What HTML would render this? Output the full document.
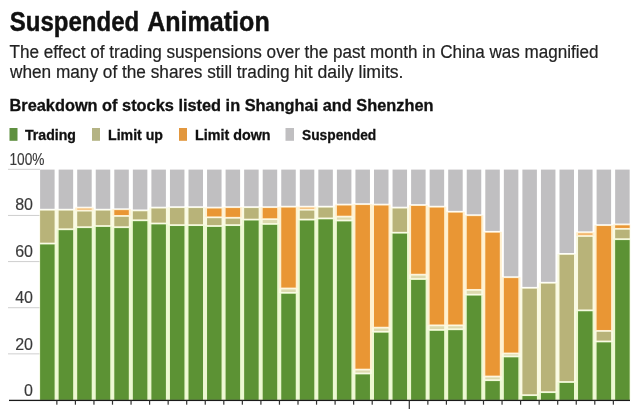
<!DOCTYPE html>
<html lang="en">
<head>
<meta charset="utf-8">
<title>Suspended Animation</title>
<style>
html,body{margin:0;padding:0;background:#fff;}
body{width:640px;height:409px;overflow:hidden;}
svg{display:block;filter:blur(0.45px);}
svg text{font-family:"Liberation Sans",Arial,Helvetica,sans-serif;}
.b{font-weight:bold;}
</style>
</head>
<body>
<svg width="640" height="409" viewBox="0 0 640 409">
<rect x="0" y="0" width="640" height="409" fill="#ffffff"/>
<g id="headings">
<text class="b" y="31.3" font-size="27" fill="#111" stroke="#111" stroke-width="0.45"><tspan x="9.7" textLength="129.5" lengthAdjust="spacingAndGlyphs">Suspended</tspan> <tspan x="147.2" textLength="122.5" lengthAdjust="spacingAndGlyphs">Animation</tspan></text>
<text y="57.6" font-size="18" fill="#222" stroke="#222" stroke-width="0.2"><tspan x="9.5" textLength="290.5" lengthAdjust="spacingAndGlyphs">The effect of trading suspensions over</tspan> <tspan x="304.6" textLength="294" lengthAdjust="spacingAndGlyphs">the past month in China was magnified</tspan></text>
<text y="78.4" font-size="18" fill="#222" stroke="#222" stroke-width="0.2"><tspan x="10" textLength="279.5" lengthAdjust="spacingAndGlyphs">when many of the shares still trading</tspan> <tspan x="294" textLength="109.5" lengthAdjust="spacingAndGlyphs">hit daily limits.</tspan></text>
<text class="b" x="9.5" y="111.3" font-size="16.4" fill="#111" stroke="#111" stroke-width="0.3" textLength="424" lengthAdjust="spacingAndGlyphs">Breakdown of stocks listed in Shanghai and Shenzhen</text>
</g>
<g id="legend" class="b" font-size="15" fill="#111" stroke="#111" stroke-width="0.3">
<rect x="9.5" y="128" width="8" height="12.8" fill="#5f9040" stroke="none"/>
<text x="25" y="139.5" textLength="51" lengthAdjust="spacingAndGlyphs">Trading</text>
<rect x="92" y="128" width="8" height="12.8" fill="#b4b384" stroke="none"/>
<text x="108" y="139.5" textLength="55" lengthAdjust="spacingAndGlyphs">Limit up</text>
<rect x="179" y="128" width="8" height="12.8" fill="#e2973e" stroke="none"/>
<text x="195" y="139.5" textLength="75.5" lengthAdjust="spacingAndGlyphs">Limit down</text>
<rect x="285.5" y="128" width="8.5" height="12.8" fill="#c0bfc1" stroke="none"/>
<text x="302" y="139.5" textLength="74.3" lengthAdjust="spacingAndGlyphs">Suspended</text>
</g>
<g id="grid">
<rect x="8" y="168.80" width="32" height="1" fill="#cfcfcf"/>
<rect x="8" y="214.94" width="32" height="1" fill="#cfcfcf"/>
<rect x="8" y="261.08" width="32" height="1" fill="#cfcfcf"/>
<rect x="8" y="307.22" width="32" height="1" fill="#cfcfcf"/>
<rect x="8" y="353.36" width="32" height="1" fill="#cfcfcf"/>
</g>
<g id="ylabels">
<text x="9.5" y="164.5" text-anchor="start" font-size="16" fill="#3a3a3a" stroke="#3a3a3a" stroke-width="0.15" textLength="35" lengthAdjust="spacingAndGlyphs">100%</text>
<text x="33" y="210.2" text-anchor="end" font-size="16" fill="#3a3a3a" stroke="#3a3a3a" stroke-width="0.15">80</text>
<text x="33" y="256.6" text-anchor="end" font-size="16" fill="#3a3a3a" stroke="#3a3a3a" stroke-width="0.15">60</text>
<text x="33" y="303.0" text-anchor="end" font-size="16" fill="#3a3a3a" stroke="#3a3a3a" stroke-width="0.15">40</text>
<text x="33" y="349.5" text-anchor="end" font-size="16" fill="#3a3a3a" stroke="#3a3a3a" stroke-width="0.15">20</text>
<text x="33" y="395.5" text-anchor="end" font-size="16" fill="#3a3a3a" stroke="#3a3a3a" stroke-width="0.15">0</text>
</g>
<g id="tints">
<rect x="39.50" y="243.56" width="17.20" height="156.44" fill="#ecf8d0"/>
<rect x="39.50" y="209.69" width="17.20" height="33.87" fill="#fafae2"/>
<rect x="56.55" y="229.27" width="18.70" height="170.73" fill="#ecf8d0"/>
<rect x="56.55" y="209.69" width="18.70" height="19.58" fill="#fafae2"/>
<rect x="75.10" y="227.20" width="18.70" height="172.80" fill="#ecf8d0"/>
<rect x="75.10" y="210.61" width="18.70" height="16.59" fill="#fafae2"/>
<rect x="75.10" y="207.62" width="18.70" height="3.00" fill="#fff0cf"/>
<rect x="93.65" y="226.05" width="18.70" height="173.95" fill="#ecf8d0"/>
<rect x="93.65" y="209.69" width="18.70" height="16.36" fill="#fafae2"/>
<rect x="112.20" y="227.20" width="18.70" height="172.80" fill="#ecf8d0"/>
<rect x="112.20" y="215.91" width="18.70" height="11.29" fill="#fafae2"/>
<rect x="112.20" y="209.23" width="18.70" height="6.68" fill="#fff0cf"/>
<rect x="130.75" y="220.29" width="18.70" height="179.71" fill="#ecf8d0"/>
<rect x="130.75" y="210.38" width="18.70" height="9.91" fill="#fafae2"/>
<rect x="149.30" y="223.51" width="18.70" height="176.49" fill="#ecf8d0"/>
<rect x="149.30" y="207.62" width="18.70" height="15.90" fill="#fafae2"/>
<rect x="167.85" y="225.13" width="18.70" height="174.87" fill="#ecf8d0"/>
<rect x="167.85" y="207.16" width="18.70" height="17.97" fill="#fafae2"/>
<rect x="186.40" y="225.13" width="18.70" height="174.87" fill="#ecf8d0"/>
<rect x="186.40" y="207.16" width="18.70" height="17.97" fill="#fafae2"/>
<rect x="204.95" y="226.05" width="18.70" height="173.95" fill="#ecf8d0"/>
<rect x="204.95" y="217.29" width="18.70" height="8.76" fill="#fafae2"/>
<rect x="204.95" y="207.62" width="18.70" height="9.68" fill="#fff0cf"/>
<rect x="223.50" y="225.13" width="18.70" height="174.87" fill="#ecf8d0"/>
<rect x="223.50" y="217.75" width="18.70" height="7.37" fill="#fafae2"/>
<rect x="223.50" y="207.16" width="18.70" height="10.60" fill="#fff0cf"/>
<rect x="242.05" y="219.60" width="18.70" height="180.40" fill="#ecf8d0"/>
<rect x="242.05" y="207.16" width="18.70" height="12.44" fill="#fafae2"/>
<rect x="260.60" y="223.97" width="18.70" height="176.03" fill="#ecf8d0"/>
<rect x="260.60" y="219.14" width="18.70" height="4.84" fill="#fafae2"/>
<rect x="260.60" y="207.16" width="18.70" height="11.98" fill="#fff0cf"/>
<rect x="279.15" y="292.86" width="18.70" height="107.14" fill="#ecf8d0"/>
<rect x="279.15" y="288.49" width="18.70" height="4.38" fill="#fafae2"/>
<rect x="279.15" y="206.69" width="18.70" height="81.79" fill="#fff0cf"/>
<rect x="297.70" y="219.60" width="18.70" height="180.40" fill="#ecf8d0"/>
<rect x="297.70" y="209.69" width="18.70" height="9.91" fill="#fafae2"/>
<rect x="297.70" y="206.69" width="18.70" height="3.00" fill="#fff0cf"/>
<rect x="316.25" y="218.44" width="18.70" height="181.56" fill="#ecf8d0"/>
<rect x="316.25" y="206.69" width="18.70" height="11.75" fill="#fafae2"/>
<rect x="334.80" y="220.52" width="18.70" height="179.48" fill="#ecf8d0"/>
<rect x="334.80" y="216.60" width="18.70" height="3.92" fill="#fafae2"/>
<rect x="334.80" y="204.62" width="18.70" height="11.98" fill="#fff0cf"/>
<rect x="353.35" y="373.50" width="18.70" height="26.50" fill="#ecf8d0"/>
<rect x="353.35" y="369.59" width="18.70" height="3.92" fill="#fafae2"/>
<rect x="353.35" y="204.16" width="18.70" height="165.43" fill="#fff0cf"/>
<rect x="371.90" y="331.80" width="18.70" height="68.20" fill="#ecf8d0"/>
<rect x="371.90" y="327.65" width="18.70" height="4.15" fill="#fafae2"/>
<rect x="371.90" y="204.62" width="18.70" height="123.03" fill="#fff0cf"/>
<rect x="390.45" y="232.73" width="18.70" height="167.27" fill="#ecf8d0"/>
<rect x="390.45" y="207.62" width="18.70" height="25.11" fill="#fafae2"/>
<rect x="409.00" y="279.04" width="18.70" height="120.96" fill="#ecf8d0"/>
<rect x="409.00" y="274.66" width="18.70" height="4.38" fill="#fafae2"/>
<rect x="409.00" y="205.08" width="18.70" height="69.58" fill="#fff0cf"/>
<rect x="427.55" y="329.96" width="18.70" height="70.04" fill="#ecf8d0"/>
<rect x="427.55" y="325.35" width="18.70" height="4.61" fill="#fafae2"/>
<rect x="427.55" y="206.69" width="18.70" height="118.66" fill="#fff0cf"/>
<rect x="446.10" y="329.27" width="18.70" height="70.73" fill="#ecf8d0"/>
<rect x="446.10" y="325.35" width="18.70" height="3.92" fill="#fafae2"/>
<rect x="446.10" y="211.76" width="18.70" height="113.59" fill="#fff0cf"/>
<rect x="464.65" y="294.71" width="18.70" height="105.29" fill="#ecf8d0"/>
<rect x="464.65" y="289.87" width="18.70" height="4.84" fill="#fafae2"/>
<rect x="464.65" y="215.22" width="18.70" height="74.65" fill="#fff0cf"/>
<rect x="483.20" y="380.19" width="18.70" height="19.81" fill="#ecf8d0"/>
<rect x="483.20" y="376.50" width="18.70" height="3.69" fill="#fafae2"/>
<rect x="483.20" y="231.81" width="18.70" height="144.69" fill="#fff0cf"/>
<rect x="501.75" y="356.45" width="18.70" height="43.55" fill="#ecf8d0"/>
<rect x="501.75" y="353.46" width="18.70" height="3.00" fill="#fafae2"/>
<rect x="501.75" y="277.20" width="18.70" height="76.26" fill="#fff0cf"/>
<rect x="520.30" y="395.16" width="18.70" height="4.84" fill="#ecf8d0"/>
<rect x="520.30" y="287.80" width="18.70" height="107.37" fill="#fafae2"/>
<rect x="538.85" y="392.17" width="18.70" height="7.83" fill="#ecf8d0"/>
<rect x="538.85" y="282.73" width="18.70" height="109.44" fill="#fafae2"/>
<rect x="557.40" y="382.03" width="18.70" height="17.97" fill="#ecf8d0"/>
<rect x="557.40" y="253.93" width="18.70" height="128.10" fill="#fafae2"/>
<rect x="575.95" y="310.37" width="18.70" height="89.63" fill="#ecf8d0"/>
<rect x="575.95" y="235.96" width="18.70" height="74.42" fill="#fafae2"/>
<rect x="575.95" y="232.27" width="18.70" height="3.69" fill="#fff0cf"/>
<rect x="594.50" y="341.48" width="18.70" height="58.52" fill="#ecf8d0"/>
<rect x="594.50" y="330.88" width="18.70" height="10.60" fill="#fafae2"/>
<rect x="594.50" y="225.13" width="18.70" height="105.75" fill="#fff0cf"/>
<rect x="613.05" y="239.18" width="17.20" height="160.82" fill="#ecf8d0"/>
<rect x="613.05" y="228.81" width="17.20" height="10.37" fill="#fafae2"/>
<rect x="613.05" y="224.44" width="17.20" height="4.38" fill="#fff0cf"/>
</g>
<g id="bars">
<rect x="40.10" y="244.46" width="14.5" height="155.44" fill="#5c9234"/>
<rect x="40.10" y="210.59" width="14.5" height="32.07" fill="#b8b379"/>
<rect x="40.10" y="169.60" width="14.5" height="39.19" fill="#c0bfc1"/>
<rect x="58.65" y="230.17" width="14.5" height="169.73" fill="#5c9234"/>
<rect x="58.65" y="210.59" width="14.5" height="17.78" fill="#b8b379"/>
<rect x="58.65" y="169.60" width="14.5" height="39.19" fill="#c0bfc1"/>
<rect x="77.20" y="228.10" width="14.5" height="171.80" fill="#5c9234"/>
<rect x="77.20" y="211.51" width="14.5" height="14.79" fill="#b8b379"/>
<rect x="77.20" y="208.52" width="14.5" height="1.20" fill="#f3b76f"/>
<rect x="77.20" y="169.60" width="14.5" height="37.12" fill="#c0bfc1"/>
<rect x="95.75" y="226.95" width="14.5" height="172.95" fill="#5c9234"/>
<rect x="95.75" y="210.59" width="14.5" height="14.56" fill="#b8b379"/>
<rect x="95.75" y="169.60" width="14.5" height="39.19" fill="#c0bfc1"/>
<rect x="114.30" y="228.10" width="14.5" height="171.80" fill="#5c9234"/>
<rect x="114.30" y="216.81" width="14.5" height="9.49" fill="#b8b379"/>
<rect x="114.30" y="210.13" width="14.5" height="4.88" fill="#e99634"/>
<rect x="114.30" y="169.60" width="14.5" height="38.73" fill="#c0bfc1"/>
<rect x="132.85" y="221.19" width="14.5" height="178.71" fill="#5c9234"/>
<rect x="132.85" y="211.28" width="14.5" height="8.11" fill="#b8b379"/>
<rect x="132.85" y="169.60" width="14.5" height="39.88" fill="#c0bfc1"/>
<rect x="151.40" y="224.41" width="14.5" height="175.49" fill="#5c9234"/>
<rect x="151.40" y="208.52" width="14.5" height="14.10" fill="#b8b379"/>
<rect x="151.40" y="169.60" width="14.5" height="37.12" fill="#c0bfc1"/>
<rect x="169.95" y="226.03" width="14.5" height="173.87" fill="#5c9234"/>
<rect x="169.95" y="208.06" width="14.5" height="16.17" fill="#b8b379"/>
<rect x="169.95" y="169.60" width="14.5" height="36.66" fill="#c0bfc1"/>
<rect x="188.50" y="226.03" width="14.5" height="173.87" fill="#5c9234"/>
<rect x="188.50" y="208.06" width="14.5" height="16.17" fill="#b8b379"/>
<rect x="188.50" y="169.60" width="14.5" height="36.66" fill="#c0bfc1"/>
<rect x="207.05" y="226.95" width="14.5" height="172.95" fill="#5c9234"/>
<rect x="207.05" y="218.19" width="14.5" height="6.96" fill="#b8b379"/>
<rect x="207.05" y="208.52" width="14.5" height="7.88" fill="#e99634"/>
<rect x="207.05" y="169.60" width="14.5" height="37.12" fill="#c0bfc1"/>
<rect x="225.60" y="226.03" width="14.5" height="173.87" fill="#5c9234"/>
<rect x="225.60" y="218.65" width="14.5" height="5.57" fill="#b8b379"/>
<rect x="225.60" y="208.06" width="14.5" height="8.80" fill="#e99634"/>
<rect x="225.60" y="169.60" width="14.5" height="36.66" fill="#c0bfc1"/>
<rect x="244.15" y="220.50" width="14.5" height="179.40" fill="#5c9234"/>
<rect x="244.15" y="208.06" width="14.5" height="10.64" fill="#b8b379"/>
<rect x="244.15" y="169.60" width="14.5" height="36.66" fill="#c0bfc1"/>
<rect x="262.70" y="224.87" width="14.5" height="175.03" fill="#5c9234"/>
<rect x="262.70" y="220.04" width="14.5" height="3.04" fill="#dcd9ad"/>
<rect x="262.70" y="208.06" width="14.5" height="10.18" fill="#e99634"/>
<rect x="262.70" y="169.60" width="14.5" height="36.66" fill="#c0bfc1"/>
<rect x="281.25" y="293.76" width="14.5" height="106.14" fill="#5c9234"/>
<rect x="281.25" y="289.39" width="14.5" height="2.58" fill="#dcd9ad"/>
<rect x="281.25" y="207.59" width="14.5" height="79.99" fill="#e99634"/>
<rect x="281.25" y="169.60" width="14.5" height="36.19" fill="#c0bfc1"/>
<rect x="299.80" y="220.50" width="14.5" height="179.40" fill="#5c9234"/>
<rect x="299.80" y="210.59" width="14.5" height="8.11" fill="#b8b379"/>
<rect x="299.80" y="207.59" width="14.5" height="1.20" fill="#f3b76f"/>
<rect x="299.80" y="169.60" width="14.5" height="36.19" fill="#c0bfc1"/>
<rect x="318.35" y="219.34" width="14.5" height="180.56" fill="#5c9234"/>
<rect x="318.35" y="207.59" width="14.5" height="9.95" fill="#b8b379"/>
<rect x="318.35" y="169.60" width="14.5" height="36.19" fill="#c0bfc1"/>
<rect x="336.90" y="221.42" width="14.5" height="178.48" fill="#5c9234"/>
<rect x="336.90" y="217.50" width="14.5" height="2.12" fill="#dcd9ad"/>
<rect x="336.90" y="205.52" width="14.5" height="10.18" fill="#e99634"/>
<rect x="336.90" y="169.60" width="14.5" height="34.12" fill="#c0bfc1"/>
<rect x="355.45" y="374.40" width="14.5" height="25.50" fill="#5c9234"/>
<rect x="355.45" y="370.49" width="14.5" height="2.12" fill="#dcd9ad"/>
<rect x="355.45" y="205.06" width="14.5" height="163.63" fill="#e99634"/>
<rect x="355.45" y="169.60" width="14.5" height="33.66" fill="#c0bfc1"/>
<rect x="374.00" y="332.70" width="14.5" height="67.20" fill="#5c9234"/>
<rect x="374.00" y="328.55" width="14.5" height="2.35" fill="#dcd9ad"/>
<rect x="374.00" y="205.52" width="14.5" height="121.23" fill="#e99634"/>
<rect x="374.00" y="169.60" width="14.5" height="34.12" fill="#c0bfc1"/>
<rect x="392.55" y="233.63" width="14.5" height="166.27" fill="#5c9234"/>
<rect x="392.55" y="208.52" width="14.5" height="23.31" fill="#b8b379"/>
<rect x="392.55" y="169.60" width="14.5" height="37.12" fill="#c0bfc1"/>
<rect x="411.10" y="279.94" width="14.5" height="119.96" fill="#5c9234"/>
<rect x="411.10" y="275.56" width="14.5" height="2.58" fill="#dcd9ad"/>
<rect x="411.10" y="205.98" width="14.5" height="67.78" fill="#e99634"/>
<rect x="411.10" y="169.60" width="14.5" height="34.58" fill="#c0bfc1"/>
<rect x="429.65" y="330.86" width="14.5" height="69.04" fill="#5c9234"/>
<rect x="429.65" y="326.25" width="14.5" height="2.81" fill="#dcd9ad"/>
<rect x="429.65" y="207.59" width="14.5" height="116.86" fill="#e99634"/>
<rect x="429.65" y="169.60" width="14.5" height="36.19" fill="#c0bfc1"/>
<rect x="448.20" y="330.17" width="14.5" height="69.73" fill="#5c9234"/>
<rect x="448.20" y="326.25" width="14.5" height="2.12" fill="#dcd9ad"/>
<rect x="448.20" y="212.66" width="14.5" height="111.79" fill="#e99634"/>
<rect x="448.20" y="169.60" width="14.5" height="41.26" fill="#c0bfc1"/>
<rect x="466.75" y="295.61" width="14.5" height="104.29" fill="#5c9234"/>
<rect x="466.75" y="290.77" width="14.5" height="3.04" fill="#dcd9ad"/>
<rect x="466.75" y="216.12" width="14.5" height="72.85" fill="#e99634"/>
<rect x="466.75" y="169.60" width="14.5" height="44.72" fill="#c0bfc1"/>
<rect x="485.30" y="381.09" width="14.5" height="18.81" fill="#5c9234"/>
<rect x="485.30" y="377.40" width="14.5" height="1.89" fill="#dcd9ad"/>
<rect x="485.30" y="232.71" width="14.5" height="142.89" fill="#e99634"/>
<rect x="485.30" y="169.60" width="14.5" height="61.31" fill="#c0bfc1"/>
<rect x="503.85" y="357.35" width="14.5" height="42.55" fill="#5c9234"/>
<rect x="503.85" y="354.36" width="14.5" height="1.20" fill="#dcd9ad"/>
<rect x="503.85" y="278.10" width="14.5" height="74.46" fill="#e99634"/>
<rect x="503.85" y="169.60" width="14.5" height="106.70" fill="#c0bfc1"/>
<rect x="522.40" y="396.06" width="14.5" height="3.84" fill="#5c9234"/>
<rect x="522.40" y="288.70" width="14.5" height="105.57" fill="#b8b379"/>
<rect x="522.40" y="169.60" width="14.5" height="117.30" fill="#c0bfc1"/>
<rect x="540.95" y="393.07" width="14.5" height="6.83" fill="#5c9234"/>
<rect x="540.95" y="283.63" width="14.5" height="107.64" fill="#b8b379"/>
<rect x="540.95" y="169.60" width="14.5" height="112.23" fill="#c0bfc1"/>
<rect x="559.50" y="382.93" width="14.5" height="16.97" fill="#5c9234"/>
<rect x="559.50" y="254.83" width="14.5" height="126.30" fill="#b8b379"/>
<rect x="559.50" y="169.60" width="14.5" height="83.43" fill="#c0bfc1"/>
<rect x="578.05" y="311.27" width="14.5" height="88.63" fill="#5c9234"/>
<rect x="578.05" y="236.86" width="14.5" height="72.62" fill="#b8b379"/>
<rect x="578.05" y="233.17" width="14.5" height="1.89" fill="#f3b76f"/>
<rect x="578.05" y="169.60" width="14.5" height="61.77" fill="#c0bfc1"/>
<rect x="596.60" y="342.38" width="14.5" height="57.52" fill="#5c9234"/>
<rect x="596.60" y="331.78" width="14.5" height="8.80" fill="#b8b379"/>
<rect x="596.60" y="226.03" width="14.5" height="103.95" fill="#e99634"/>
<rect x="596.60" y="169.60" width="14.5" height="54.63" fill="#c0bfc1"/>
<rect x="615.15" y="240.08" width="14.5" height="159.82" fill="#5c9234"/>
<rect x="615.15" y="229.71" width="14.5" height="8.57" fill="#b8b379"/>
<rect x="615.15" y="225.34" width="14.5" height="2.58" fill="#e99634"/>
<rect x="615.15" y="169.60" width="14.5" height="53.94" fill="#c0bfc1"/>
</g>
<g id="axis">
<rect x="9" y="399.75" width="621" height="1.3" fill="#1a1a1a"/>
<rect x="56.25" y="400.5" width="1.2" height="4.2" fill="#333"/>
<rect x="74.80" y="400.5" width="1.2" height="4.2" fill="#333"/>
<rect x="93.35" y="400.5" width="1.2" height="4.2" fill="#333"/>
<rect x="111.90" y="400.5" width="1.2" height="4.2" fill="#333"/>
<rect x="130.45" y="400.5" width="1.2" height="4.2" fill="#333"/>
<rect x="149.00" y="400.5" width="1.2" height="4.2" fill="#333"/>
<rect x="167.55" y="400.5" width="1.2" height="4.2" fill="#333"/>
<rect x="186.10" y="400.5" width="1.2" height="4.2" fill="#333"/>
<rect x="204.65" y="400.5" width="1.2" height="4.2" fill="#333"/>
<rect x="223.20" y="400.5" width="1.2" height="4.2" fill="#333"/>
<rect x="241.75" y="400.5" width="1.2" height="4.2" fill="#333"/>
<rect x="260.30" y="400.5" width="1.2" height="4.2" fill="#333"/>
<rect x="278.85" y="400.5" width="1.2" height="4.2" fill="#333"/>
<rect x="297.40" y="400.5" width="1.2" height="4.2" fill="#333"/>
<rect x="315.95" y="400.5" width="1.2" height="4.2" fill="#333"/>
<rect x="334.50" y="400.5" width="1.2" height="4.2" fill="#333"/>
<rect x="353.05" y="400.5" width="1.2" height="4.2" fill="#333"/>
<rect x="371.60" y="400.5" width="1.2" height="4.2" fill="#333"/>
<rect x="390.15" y="400.5" width="1.2" height="4.2" fill="#333"/>
<rect x="408.70" y="400.5" width="1.2" height="9.5" fill="#333"/>
<rect x="427.25" y="400.5" width="1.2" height="4.2" fill="#333"/>
<rect x="445.80" y="400.5" width="1.2" height="4.2" fill="#333"/>
<rect x="464.35" y="400.5" width="1.2" height="4.2" fill="#333"/>
<rect x="482.90" y="400.5" width="1.2" height="4.2" fill="#333"/>
<rect x="501.45" y="400.5" width="1.2" height="4.2" fill="#333"/>
<rect x="520.00" y="400.5" width="1.2" height="4.2" fill="#333"/>
<rect x="538.55" y="400.5" width="1.2" height="4.2" fill="#333"/>
<rect x="557.10" y="400.5" width="1.2" height="4.2" fill="#333"/>
<rect x="575.65" y="400.5" width="1.2" height="4.2" fill="#333"/>
<rect x="594.20" y="400.5" width="1.2" height="4.2" fill="#333"/>
<rect x="612.75" y="400.5" width="1.2" height="4.2" fill="#333"/>
</g>
</svg>
</body>
</html>
